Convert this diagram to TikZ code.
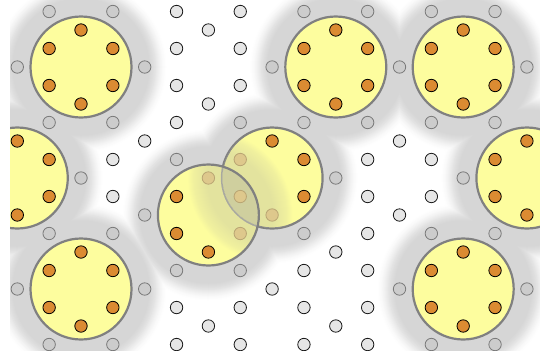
\documentclass[tikz,border=0pt]{standalone}
\usepackage{tikz}
\definecolor{diskyellow}{HTML}{FDFD9E}
\definecolor{dotorange}{HTML}{DB8B32}
\definecolor{diskedge}{HTML}{808080}
\definecolor{ghostrim}{HTML}{A8A8A0}
\definecolor{latfill}{HTML}{E6E6E6}
\definecolor{latedge}{HTML}{1A1A1A}
\definecolor{grayfill}{HTML}{CCCCCC}
\definecolor{grayedge}{HTML}{7A7A7A}
\definecolor{fadefill}{HTML}{DEC88C}
\definecolor{fadeedge}{HTML}{B9A573}
\definecolor{overlaygray}{HTML}{BEBEBE}
\tikzset{
  latpt/.style={fill=latfill, draw=latedge, line width=0.8pt},
  grpt/.style={fill=grayfill, draw=grayedge, line width=0.8pt},
  orangedot/.style={fill=dotorange, draw=black, line width=0.8pt},
  fadedot/.style={fill=fadefill, draw=fadeedge, line width=0.8pt},
  diskbody/.style={fill=diskyellow},
  diskrim/.style={draw=diskedge, line width=2.2pt},
}
\def\disklist{2/3,10/3,14/3,0/9,8/9,16/9,2/15,14/15,6/11}
\def\normaldisks{2/3,10/3,14/3,0/9,16/9,2/15,14/15}
\begin{document}
\begin{tikzpicture}[x=1pt,y=-1pt]
\useasboundingbox (0,0) rectangle (540,360);
\begin{scope}
\clip (10,0) rectangle (540,350);
% halos (soft grey, layered so that overlapping halos merge)
\foreach \k in {0,...,20}{
  \pgfmathsetmacro\rr{87-\k}
  \pgfmathsetmacro\pc{16*(\k/20)*(\k/20)*(3-2*\k/20)}
  \foreach \a/\b in \disklist
    \fill[black!\pc!white] ({17.3+31.85*\a},{11.5+18.5*\b}) circle (\rr pt);
}
% kagome lattice points
\foreach \i in {0,...,16}{
 \foreach \j in {0,...,18}{
  \pgfmathtruncatemacro\pa{mod(\i+\j,2)}
  \pgfmathtruncatemacro\pb{(mod(\i,2)==0) && (mod(\i+\j,4)==1)}
  \ifnum\pa=1\relax \ifnum\pb=0\relax
    \xdef\mind{999}
    \foreach \a/\b in \disklist{
      \pgfmathtruncatemacro\dd{3*(\i-\a)*(\i-\a)+(\j-\b)*(\j-\b)}
      \ifnum\dd<\mind\relax \xdef\mind{\dd}\fi
    }
    \ifnum\mind>12\relax
      \draw[latpt] ({17.3+31.85*\i},{11.5+18.5*\j}) circle (6.2pt);
    \else\ifnum\mind>4\relax
      \draw[grpt] ({17.3+31.85*\i},{11.5+18.5*\j}) circle (6.2pt);
    \fi\fi
  \fi\fi
 }}
% regular disks
\foreach \a/\b in \normaldisks{
  \coordinate (c) at ({17.3+31.85*\a},{11.5+18.5*\b});
  \fill[diskbody] (c) circle (50.5pt);
  \draw[diskrim] (c) circle (50.5pt);
  \foreach \u/\v in {1/1,1/-1,-1/1,-1/-1,0/2,0/-2}
    \draw[orangedot] ({17.3+31.85*(\a+\u)},{11.5+18.5*(\b+\v)}) circle (6.2pt);
}
% overlapping pair
\coordinate (U) at ({17.3+31.85*8},{11.5+18.5*9});
\coordinate (L) at ({17.3+31.85*6},{11.5+18.5*11});
\fill[diskbody] (U) circle (50.5pt);
\draw[diskrim] (U) circle (50.5pt);
\fill[diskbody] (L) circle (50.5pt);
\begin{scope}
  \clip (L) circle (50.5pt);
  \draw[draw=ghostrim, line width=1.6pt] (U) circle (50.5pt);
  \foreach \k [evaluate=\k as \rr using 84-\k] in {0,...,19}
    \fill[overlaygray, opacity=0.02] (U) circle (\rr pt);
\end{scope}
\begin{scope}
  \clip (U) circle (50.5pt);
  \foreach \k [evaluate=\k as \rr using 84-\k] in {0,...,19}
    \fill[overlaygray, opacity=0.02] (L) circle (\rr pt);
\end{scope}
\draw[diskrim] (L) circle (50.5pt);
\foreach \u/\v in {9/8,9/10,8/7,5/10,5/12,6/13}
  \draw[orangedot] ({17.3+31.85*\u},{11.5+18.5*\v}) circle (6.2pt);
\foreach \u/\v in {7/8,6/9,7/10,8/11,7/12}
  \draw[fadedot] ({17.3+31.85*\u},{11.5+18.5*\v}) circle (6.2pt);
\end{scope}
\end{tikzpicture}
\end{document}
